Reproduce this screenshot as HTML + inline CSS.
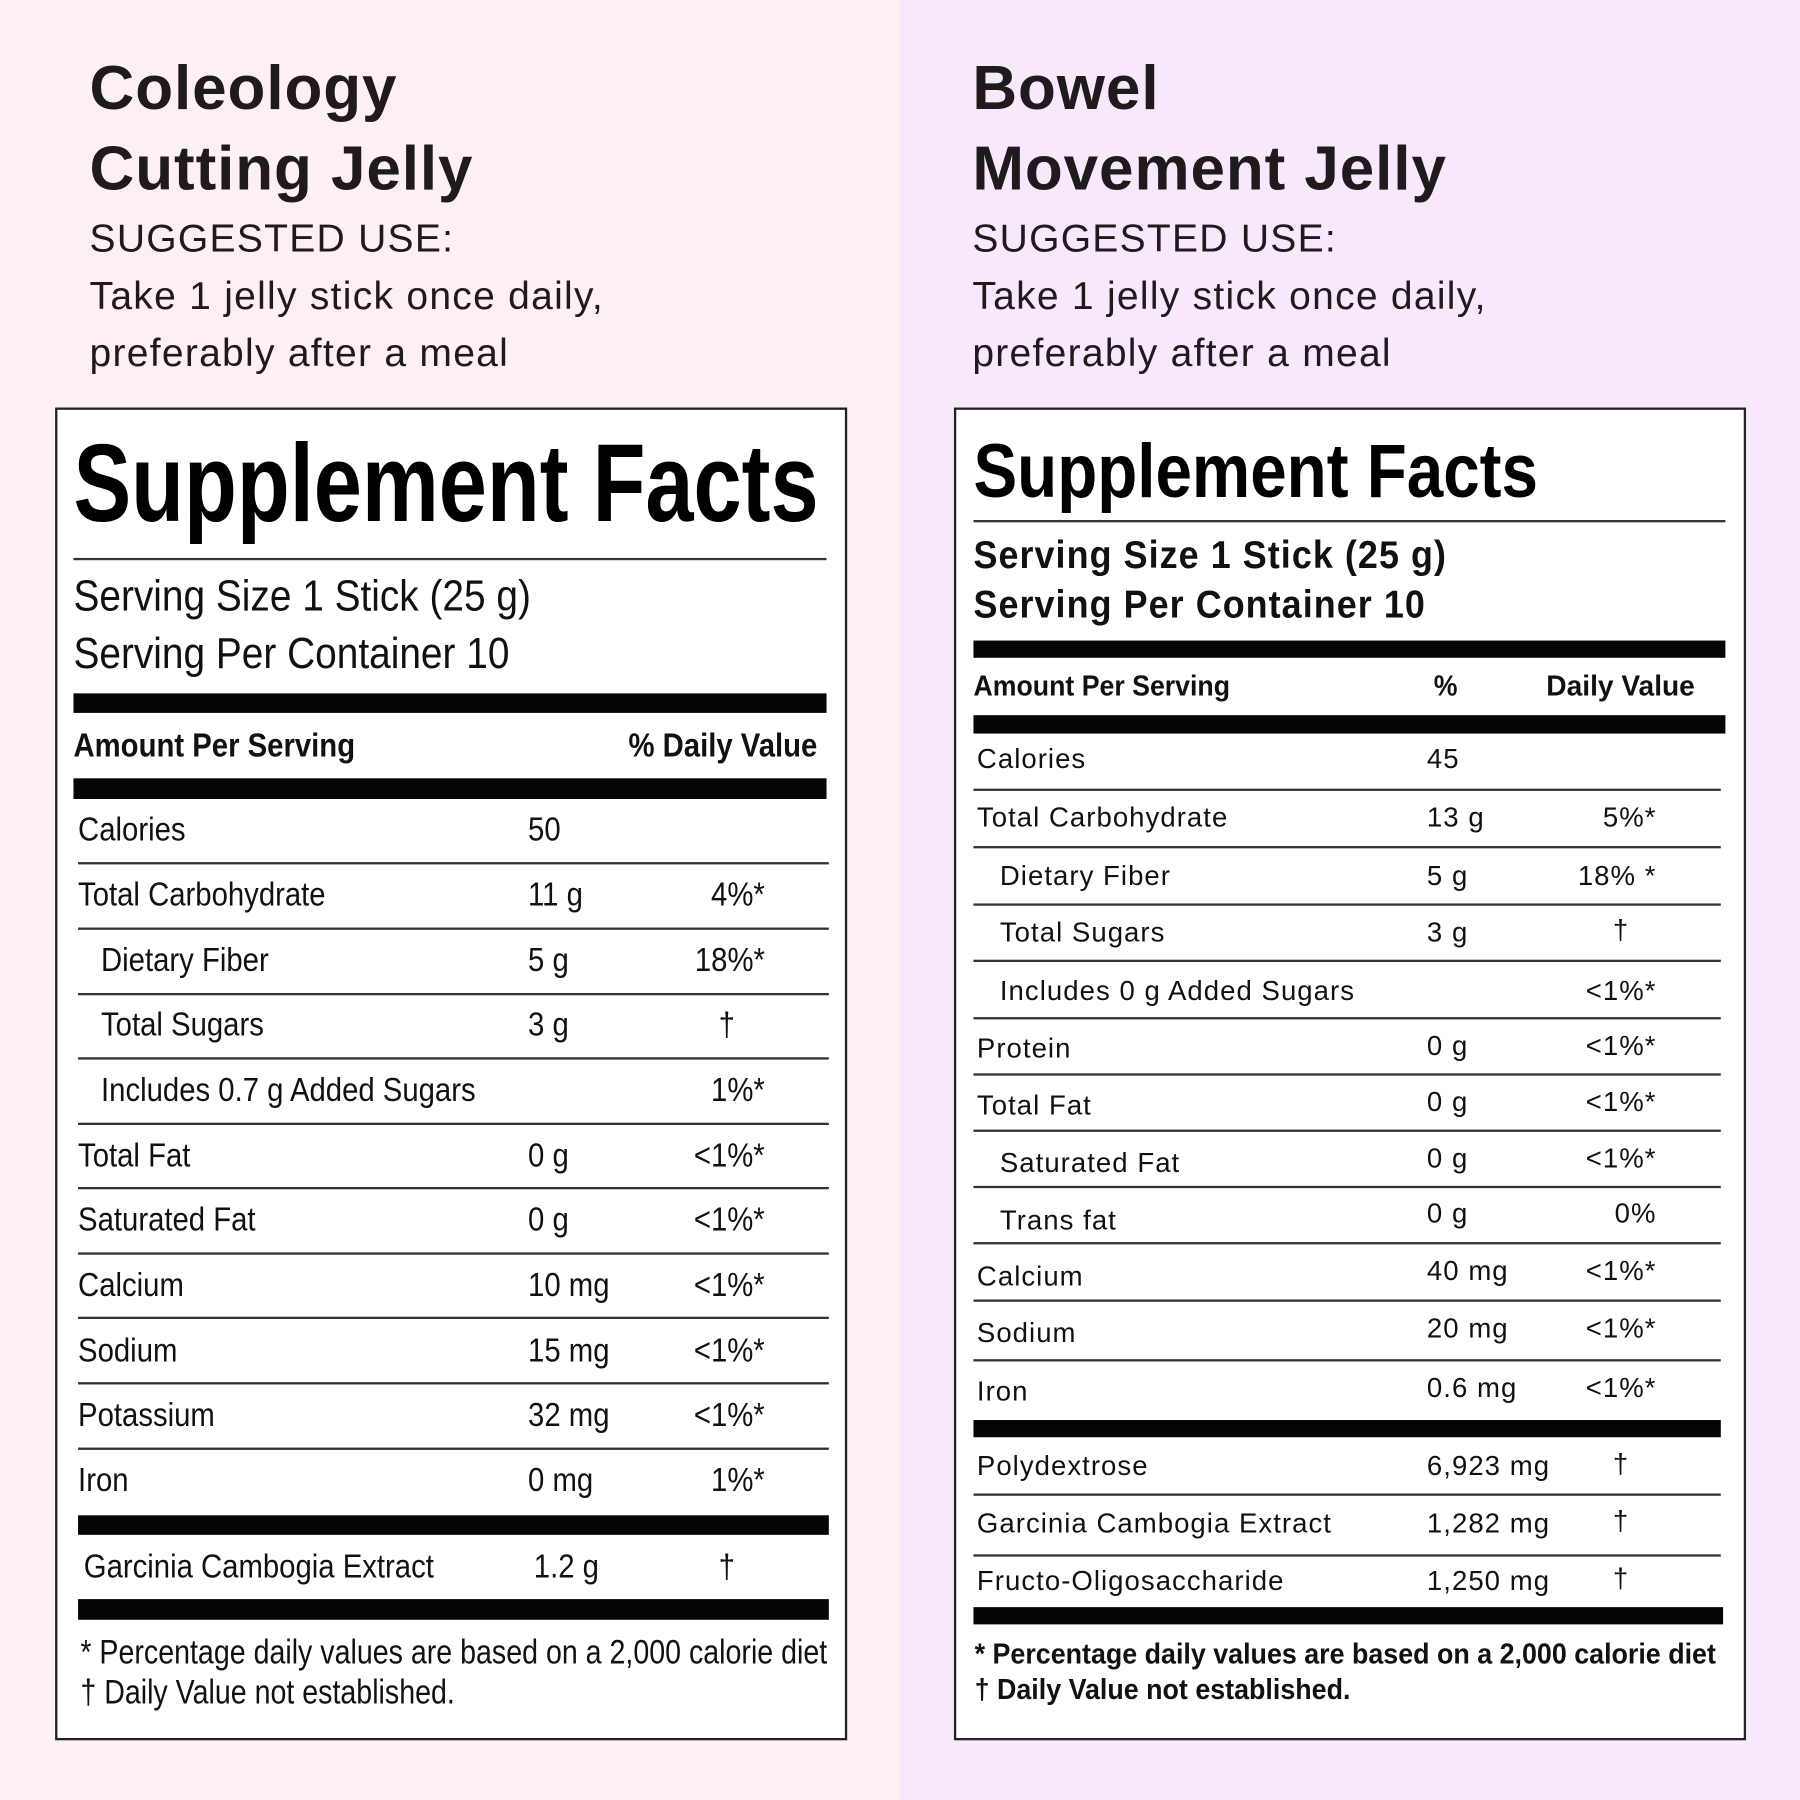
<!DOCTYPE html>
<html><head><meta charset="utf-8"><style>
html,body{margin:0;padding:0;width:1800px;height:1800px;overflow:hidden}
#w{position:absolute;left:0;top:0;width:1568px;height:1568px;transform:scale(1.14796);transform-origin:0 0;font-family:"Liberation Sans",sans-serif;color:#111}
.bgL{position:absolute;left:0;top:0;width:784px;height:1568px;background:#fdf0f3}
.bgR{position:absolute;left:784px;top:0;width:784px;height:1568px;background:#f7e8fb}
.box{position:absolute;background:#fff;border:2.5px solid #222;box-sizing:border-box}
.t{position:absolute;height:0;display:flex;align-items:center;white-space:nowrap}
.t span{display:inline-block;transform-origin:left center}
.r{justify-content:flex-end}
.r span{transform-origin:right center}
.ln{position:absolute;height:2px;background:#333}
.bar{position:absolute;background:#050505}
.h{font-weight:bold;font-size:54px;color:#1e1a1d;letter-spacing:.8px}
.s{font-size:34px;color:#1e1a1d;letter-spacing:1.1px}
.L span{transform:scaleX(.88)}
.R span{letter-spacing:.9px}
</style></head><body><div id="w">
<div class="bgL"></div><div class="bgR"></div>

<div class="t h" style="left:78px;top:77px">Coleology</div>
<div class="t h" style="left:78px;top:147px">Cutting Jelly</div>
<div class="t s" style="left:78px;top:208px">SUGGESTED USE:</div>
<div class="t s" style="left:78px;top:258px">Take 1 jelly stick once daily,</div>
<div class="t s" style="left:78px;top:308px">preferably after a meal</div>

<div class="t h" style="left:847px;top:77px">Bowel</div>
<div class="t h" style="left:847px;top:147px">Movement Jelly</div>
<div class="t s" style="left:847px;top:208px">SUGGESTED USE:</div>
<div class="t s" style="left:847px;top:258px">Take 1 jelly stick once daily,</div>
<div class="t s" style="left:847px;top:308px">preferably after a meal</div>

<!-- LEFT BOX -->
<div class="box" style="left:48px;top:355px;width:690px;height:1161px"></div>
<div class="t" style="left:64px;top:422px;font-size:96px;font-weight:bold;color:#000"><span style="transform:scaleX(.785)">Supplement Facts</span></div>
<div class="ln" style="left:64px;top:486px;width:656px"></div>
<div class="t" style="left:64px;top:520px;font-size:38px"><span style="transform:scaleX(.89)">Serving Size 1 Stick (25 g)</span></div>
<div class="t" style="left:64px;top:570px;font-size:38px"><span style="transform:scaleX(.89)">Serving Per Container 10</span></div>
<div class="bar" style="left:64px;top:604px;width:656px;height:17px"></div>
<div class="t L" style="left:64px;top:650px;font-size:29px;font-weight:bold"><span>Amount Per Serving</span></div>
<div class="t L r" style="left:500px;width:212px;top:650px;font-size:29px;font-weight:bold"><span>% Daily Value</span></div>
<div class="bar" style="left:64px;top:678px;width:656px;height:18px"></div>

<div class="t L" style="left:68px;top:723px;font-size:29px"><span>Calories</span></div>
<div class="t L" style="left:460px;top:723px;font-size:29px"><span>50</span></div>
<div class="ln" style="left:68px;top:751px;width:654px"></div>

<div class="t L" style="left:68px;top:780px;font-size:29px"><span>Total Carbohydrate</span></div>
<div class="t L" style="left:460px;top:780px;font-size:29px"><span>11 g</span></div>
<div class="t L r" style="left:500px;width:166px;top:780px;font-size:29px"><span>4%*</span></div>
<div class="ln" style="left:68px;top:808px;width:654px"></div>

<div class="t L" style="left:88px;top:837px;font-size:29px"><span>Dietary Fiber</span></div>
<div class="t L" style="left:460px;top:837px;font-size:29px"><span>5 g</span></div>
<div class="t L r" style="left:500px;width:166px;top:837px;font-size:29px"><span>18%*</span></div>
<div class="ln" style="left:68px;top:865px;width:654px"></div>

<div class="t L" style="left:88px;top:893px;font-size:29px"><span>Total Sugars</span></div>
<div class="t L" style="left:460px;top:893px;font-size:29px"><span>3 g</span></div>
<div class="t L" style="left:626px;top:893px;font-size:29px"><span>†</span></div>
<div class="ln" style="left:68px;top:921px;width:654px"></div>

<div class="t L" style="left:88px;top:950px;font-size:29px"><span>Includes 0.7 g Added Sugars</span></div>
<div class="t L r" style="left:500px;width:166px;top:950px;font-size:29px"><span>1%*</span></div>
<div class="ln" style="left:68px;top:978px;width:654px"></div>

<div class="t L" style="left:68px;top:1007px;font-size:29px"><span>Total Fat</span></div>
<div class="t L" style="left:460px;top:1007px;font-size:29px"><span>0 g</span></div>
<div class="t L r" style="left:500px;width:166px;top:1007px;font-size:29px"><span>&lt;1%*</span></div>
<div class="ln" style="left:68px;top:1034px;width:654px"></div>

<div class="t L" style="left:68px;top:1063px;font-size:29px"><span>Saturated Fat</span></div>
<div class="t L" style="left:460px;top:1063px;font-size:29px"><span>0 g</span></div>
<div class="t L r" style="left:500px;width:166px;top:1063px;font-size:29px"><span>&lt;1%*</span></div>
<div class="ln" style="left:68px;top:1091px;width:654px"></div>

<div class="t L" style="left:68px;top:1120px;font-size:29px"><span>Calcium</span></div>
<div class="t L" style="left:460px;top:1120px;font-size:29px"><span>10 mg</span></div>
<div class="t L r" style="left:500px;width:166px;top:1120px;font-size:29px"><span>&lt;1%*</span></div>
<div class="ln" style="left:68px;top:1147px;width:654px"></div>

<div class="t L" style="left:68px;top:1177px;font-size:29px"><span>Sodium</span></div>
<div class="t L" style="left:460px;top:1177px;font-size:29px"><span>15 mg</span></div>
<div class="t L r" style="left:500px;width:166px;top:1177px;font-size:29px"><span>&lt;1%*</span></div>
<div class="ln" style="left:68px;top:1204px;width:654px"></div>

<div class="t L" style="left:68px;top:1233px;font-size:29px"><span>Potassium</span></div>
<div class="t L" style="left:460px;top:1233px;font-size:29px"><span>32 mg</span></div>
<div class="t L r" style="left:500px;width:166px;top:1233px;font-size:29px"><span>&lt;1%*</span></div>
<div class="ln" style="left:68px;top:1261px;width:654px"></div>

<div class="t L" style="left:68px;top:1290px;font-size:29px"><span>Iron</span></div>
<div class="t L" style="left:460px;top:1290px;font-size:29px"><span>0 mg</span></div>
<div class="t L r" style="left:500px;width:166px;top:1290px;font-size:29px"><span>1%*</span></div>
<div class="bar" style="left:68px;top:1320px;width:654px;height:17px"></div>

<div class="t L" style="left:73px;top:1365px;font-size:29px"><span>Garcinia Cambogia Extract</span></div>
<div class="t L" style="left:465px;top:1365px;font-size:29px"><span>1.2 g</span></div>
<div class="t L" style="left:626px;top:1365px;font-size:29px"><span>†</span></div>
<div class="bar" style="left:68px;top:1393px;width:654px;height:18px"></div>

<div class="t" style="left:70px;top:1440px;font-size:30px"><span style="transform:scaleX(.83)">* Percentage daily values are based on a 2,000 calorie diet</span></div>
<div class="t" style="left:70px;top:1475px;font-size:30px"><span style="transform:scaleX(.83)">† Daily Value not established.</span></div>

<!-- RIGHT BOX -->
<div class="box" style="left:831px;top:355px;width:690px;height:1161px"></div>
<div class="t" style="left:848px;top:410px;font-size:66px;font-weight:bold;color:#000"><span style="transform:scaleX(.865)">Supplement Facts</span></div>
<div class="ln" style="left:848px;top:453px;width:655px"></div>
<div class="t" style="left:848px;top:484px;font-size:34px;font-weight:bold"><span style="transform:scaleX(.92);letter-spacing:1px">Serving Size 1 Stick (25 g)</span></div>
<div class="t" style="left:848px;top:527px;font-size:34px;font-weight:bold"><span style="transform:scaleX(.92);letter-spacing:1px">Serving Per Container 10</span></div>
<div class="bar" style="left:848px;top:558px;width:655px;height:15px"></div>
<div class="t" style="left:848px;top:598px;font-size:25px;font-weight:bold"><span style="transform:scaleX(.93)">Amount Per Serving</span></div>
<div class="t" style="left:1249px;top:598px;font-size:25px;font-weight:bold"><span style="transform:scaleX(.93)">%</span></div>
<div class="t" style="left:1347px;top:598px;font-size:25px;font-weight:bold"><span style="transform:scaleX(.98)">Daily Value</span></div>
<div class="bar" style="left:848px;top:623px;width:655px;height:16px"></div>

<div class="t R" style="left:851px;top:662px;font-size:24px"><span>Calories</span></div>
<div class="t R" style="left:1243px;top:662px;font-size:24px"><span>45</span></div>
<div class="ln" style="left:848px;top:687px;width:651px"></div>

<div class="t R" style="left:851px;top:713px;font-size:24px"><span>Total Carbohydrate</span></div>
<div class="t R" style="left:1243px;top:713px;font-size:24px"><span>13 g</span></div>
<div class="t R r" style="left:1300px;width:143px;top:713px;font-size:24px"><span>5%*</span></div>
<div class="ln" style="left:848px;top:737px;width:651px"></div>

<div class="t R" style="left:871px;top:764px;font-size:24px"><span>Dietary Fiber</span></div>
<div class="t R" style="left:1243px;top:764px;font-size:24px"><span>5 g</span></div>
<div class="t R r" style="left:1300px;width:143px;top:764px;font-size:24px"><span>18% *</span></div>
<div class="ln" style="left:848px;top:787px;width:651px"></div>

<div class="t R" style="left:871px;top:813px;font-size:24px"><span>Total Sugars</span></div>
<div class="t R" style="left:1243px;top:813px;font-size:24px"><span>3 g</span></div>
<div class="t R" style="left:1405px;top:811px;font-size:24px"><span>†</span></div>
<div class="ln" style="left:848px;top:836px;width:651px"></div>

<div class="t R" style="left:871px;top:864px;font-size:24px"><span>Includes 0 g Added Sugars</span></div>
<div class="t R r" style="left:1300px;width:143px;top:864px;font-size:24px"><span>&lt;1%*</span></div>
<div class="ln" style="left:848px;top:886px;width:651px"></div>

<div class="t R" style="left:851px;top:914px;font-size:24px"><span>Protein</span></div>
<div class="t R" style="left:1243px;top:912px;font-size:24px"><span>0 g</span></div>
<div class="t R r" style="left:1300px;width:143px;top:912px;font-size:24px"><span>&lt;1%*</span></div>
<div class="ln" style="left:848px;top:935px;width:651px"></div>

<div class="t R" style="left:851px;top:964px;font-size:24px"><span>Total Fat</span></div>
<div class="t R" style="left:1243px;top:961px;font-size:24px"><span>0 g</span></div>
<div class="t R r" style="left:1300px;width:143px;top:961px;font-size:24px"><span>&lt;1%*</span></div>
<div class="ln" style="left:848px;top:984px;width:651px"></div>

<div class="t R" style="left:871px;top:1014px;font-size:24px"><span>Saturated Fat</span></div>
<div class="t R" style="left:1243px;top:1010px;font-size:24px"><span>0 g</span></div>
<div class="t R r" style="left:1300px;width:143px;top:1010px;font-size:24px"><span>&lt;1%*</span></div>
<div class="ln" style="left:848px;top:1033px;width:651px"></div>

<div class="t R" style="left:871px;top:1064px;font-size:24px"><span>Trans fat</span></div>
<div class="t R" style="left:1243px;top:1058px;font-size:24px"><span>0 g</span></div>
<div class="t R r" style="left:1300px;width:143px;top:1058px;font-size:24px"><span>0%</span></div>
<div class="ln" style="left:848px;top:1082px;width:651px"></div>

<div class="t R" style="left:851px;top:1113px;font-size:24px"><span>Calcium</span></div>
<div class="t R" style="left:1243px;top:1108px;font-size:24px"><span>40 mg</span></div>
<div class="t R r" style="left:1300px;width:143px;top:1108px;font-size:24px"><span>&lt;1%*</span></div>
<div class="ln" style="left:848px;top:1132px;width:651px"></div>

<div class="t R" style="left:851px;top:1162px;font-size:24px"><span>Sodium</span></div>
<div class="t R" style="left:1243px;top:1158px;font-size:24px"><span>20 mg</span></div>
<div class="t R r" style="left:1300px;width:143px;top:1158px;font-size:24px"><span>&lt;1%*</span></div>
<div class="ln" style="left:848px;top:1184px;width:651px"></div>

<div class="t R" style="left:851px;top:1213px;font-size:24px"><span>Iron</span></div>
<div class="t R" style="left:1243px;top:1210px;font-size:24px"><span>0.6 mg</span></div>
<div class="t R r" style="left:1300px;width:143px;top:1210px;font-size:24px"><span>&lt;1%*</span></div>
<div class="bar" style="left:848px;top:1237px;width:651px;height:15px"></div>

<div class="t R" style="left:851px;top:1278px;font-size:24px"><span>Polydextrose</span></div>
<div class="t R" style="left:1243px;top:1278px;font-size:24px"><span>6,923 mg</span></div>
<div class="t R" style="left:1405px;top:1276px;font-size:24px"><span>†</span></div>
<div class="ln" style="left:848px;top:1301px;width:651px"></div>

<div class="t R" style="left:851px;top:1328px;font-size:24px"><span>Garcinia Cambogia Extract</span></div>
<div class="t R" style="left:1243px;top:1328px;font-size:24px"><span>1,282 mg</span></div>
<div class="t R" style="left:1405px;top:1326px;font-size:24px"><span>†</span></div>
<div class="ln" style="left:848px;top:1354px;width:651px"></div>

<div class="t R" style="left:851px;top:1378px;font-size:24px"><span>Fructo-Oligosaccharide</span></div>
<div class="t R" style="left:1243px;top:1378px;font-size:24px"><span>1,250 mg</span></div>
<div class="t R" style="left:1405px;top:1376px;font-size:24px"><span>†</span></div>
<div class="bar" style="left:848px;top:1400px;width:653px;height:15px"></div>

<div class="t" style="left:849px;top:1441px;font-size:25px;font-weight:bold"><span style="transform:scaleX(.935)">* Percentage daily values are based on a 2,000 calorie diet</span></div>
<div class="t" style="left:849px;top:1472px;font-size:25px;font-weight:bold"><span style="transform:scaleX(.935)">† Daily Value not established.</span></div>
</div></body></html>
